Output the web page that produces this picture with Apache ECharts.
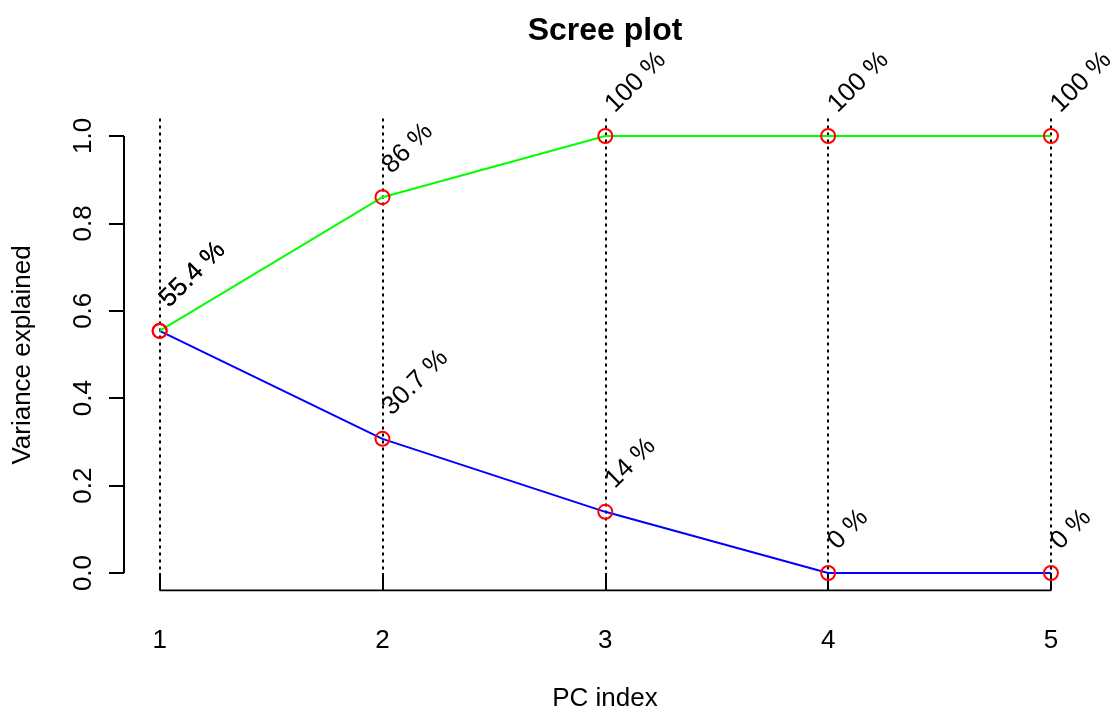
<!DOCTYPE html>
<html><head><meta charset="utf-8">
<script src="https://cdn.jsdelivr.net/npm/echarts@6/dist/echarts.min.js"></script>
<style>html,body{margin:0;padding:0;background:#fff}#c{width:1119px;height:715px}</style>
</head><body><div id="c"></div>
<script>
// ---- data ----
const pcIndex = [1, 2, 3, 4, 5];
const varianceExplained = [0.554, 0.307, 0.14, 0, 0];
const cumulativeVariance = [0.554, 0.86, 1, 1, 1];
const xTickValues = [1, 2, 3, 4, 5];
const yTickValues = [0, 0.2, 0.4, 0.6, 0.8, 1.0];
const chartTitle = 'Scree plot';
const xTitle = 'PC index';
const yTitle = 'Variance explained';

// ---- layout ----
const FONT = '"Liberation Sans", Arial, Helvetica, sans-serif';
const xLo = Math.min(...pcIndex), xHi = Math.max(...pcIndex);
const xPad = 0.04 * (xHi - xLo);
const xMin = xLo - xPad, xMax = xHi + xPad;
const yLo = 0, yHi = 1;
const yPad = 0.04 * (yHi - yLo);
const yMin = yLo - yPad, yMax = yHi + yPad;

const pct = v => parseFloat((v * 100).toFixed(1)) + ' %';
const pairs = arr => pcIndex.map((x, i) => [x, arr[i]]);

const labelCfg = {
  show: true, position: 'inside', rotate: 45, align: 'left', verticalAlign: 'bottom',
  offset: [22.6, -3.5], fontSize: 26, color: '#000', fontFamily: FONT,
  formatter: p => pct(p.value[1])
};
const markerStyle = { color: 'rgba(0,0,0,0)', borderColor: '#ff0000', borderWidth: 2 };

const chart = echarts.init(document.getElementById('c'), null, { renderer: 'canvas' });
chart.setOption({
  animation: false,
  backgroundColor: '#ffffff',
  grid: { left: 124, right: 32.4, top: 118.5, bottom: 124.5, containLabel: false, outerBoundsMode: 'none' },
  xAxis: {
    type: 'value', min: xMin, max: xMax,
    axisLine: { show: false },
    splitLine: { show: false },
    axisTick: { show: true, customValues: xTickValues, length: 15, lineStyle: { color: '#000', width: 2 } },
    axisLabel: { customValues: xTickValues, formatter: v => String(v), margin: 37, fontSize: 26, color: '#000', fontFamily: FONT }
  },
  yAxis: {
    type: 'value', min: yMin, max: yMax,
    axisLine: { show: false },
    splitLine: { show: false },
    axisTick: { show: true, customValues: yTickValues, length: 15, lineStyle: { color: '#000', width: 2 } },
    axisLabel: { customValues: yTickValues, rotate: 90, formatter: v => v.toFixed(1), margin: 27, fontSize: 26, color: '#000', fontFamily: FONT }
  },
  graphic: [
    { type: 'text', x: 605, y: 31, style: { text: chartTitle, fill: '#000', font: 'bold 32px ' + FONT, align: 'center', verticalAlign: 'middle' } },
    { type: 'text', x: 605, y: 699, style: { text: xTitle, font: '26px ' + FONT, fill: '#000', align: 'center', verticalAlign: 'middle' } },
    { type: 'text', x: 23, y: 355, rotation: Math.PI / 2, style: { text: yTitle, font: '26px ' + FONT, fill: '#000', align: 'center', verticalAlign: 'middle' } }
  ],
  series: [
    { // dotted guide lines at each PC
      type: 'line', data: [], silent: true,
      markLine: {
        silent: true, symbol: 'none', label: { show: false },
        lineStyle: { color: '#000', width: 2, type: [3, 4] },
        data: pcIndex.map(x => ({ xAxis: x }))
      }
    },
    { // x axis line (spans ticks)
      type: 'line', silent: true, symbol: 'none',
      data: [[xTickValues[0], yMin], [xTickValues[xTickValues.length - 1], yMin]],
      lineStyle: { color: '#000', width: 2 }
    },
    { // y axis line (spans ticks)
      type: 'line', silent: true, symbol: 'none',
      data: [[xMin, yTickValues[0]], [xMin, yTickValues[yTickValues.length - 1]]],
      lineStyle: { color: '#000', width: 2 }
    },
    {
      name: 'Variance', type: 'line', data: pairs(varianceExplained),
      symbol: 'circle', symbolSize: 14, itemStyle: markerStyle,
      lineStyle: { color: '#0000ff', width: 2 }, label: labelCfg, z: 5
    },
    {
      name: 'Cumulative', type: 'line', data: pairs(cumulativeVariance),
      symbol: 'circle', symbolSize: 14, itemStyle: markerStyle,
      lineStyle: { color: '#00ff00', width: 2 }, label: labelCfg, z: 5
    }
  ]
});
</script>
</body></html>
